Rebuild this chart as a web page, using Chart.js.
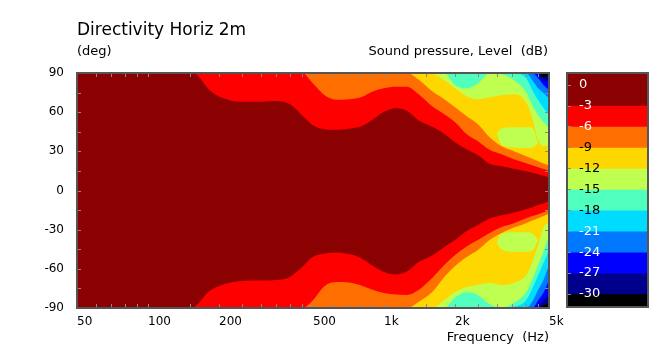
<!DOCTYPE html>
<html>
<head>
<meta charset="utf-8">
<script src="https://cdn.jsdelivr.net/npm/chart.js@4.4.1/dist/chart.umd.min.js"></script>
<style>
  html, body { margin: 0; padding: 0; background: #fff; }
  #wrap { position: relative; width: 666px; height: 351px; }
  #main { position: absolute; left: 0; top: 0; }
  #bar { position: absolute; left: 566px; top: 72px; }
</style>
</head>
<body>
<div id="wrap">
  <canvas id="main" width="666" height="351"></canvas>
  <canvas id="bar" width="83" height="236"></canvas>
</div>
<script>
const FONT = '"DejaVu Sans", Verdana, sans-serif';

// frequency grid (Hz) the contour edges are read at
const freqs = [50, 100, 140, 150, 160, 180, 200, 250, 300, 350, 400, 450, 500, 560, 630, 710, 800, 900, 1000, 1120, 1250, 1400, 1600, 1800, 2000, 2240, 2500, 2800, 3150, 3550, 4000, 4250, 4500, 4750, 5000];

// angle (deg) where the level is crossed, upper half / lower half
const top3 = [90, 90, 90, 90, 89, 78, 72, 68, 68, 68.5, 66, 57.5, 50, 47, 46.5, 47.3, 49.2, 54.6, 60.3, 63, 61, 53.8, 48.8, 43.5, 37, 31.6, 27, 20.5, 18.6, 16.7, 14.8, 13.6, 12.5, 11.3, 10.2];
const bot3 = [-90, -90, -90, -90, -88, -77.8, -73.2, -69.4, -69, -68.6, -66, -58.6, -50.8, -48.3, -47.5, -48.7, -51.8, -57.9, -62.5, -64.4, -62.1, -54.8, -49.8, -43.3, -38, -31.1, -26.5, -21.5, -18.9, -17, -14.3, -12.8, -11.2, -9.7, -8.2];
const top6 = [90, 90, 90, 90, 90, 90, 90, 90, 90, 90, 90, 90, 82, 73, 69.5, 69.9, 71.4, 76, 78.3, 79.4, 79.4, 73.7, 64.5, 58.4, 52.3, 43.1, 37.7, 31.2, 27.8, 24, 20.9, 19.4, 17.9, 16.5, 15.2];
const bot6 = [-90, -90, -90, -90, -90, -90, -90, -90, -90, -90, -90, -90, -84, -73.2, -70.1, -70.5, -72.8, -76.2, -78.5, -79.7, -80, -76.2, -67, -57.1, -49.4, -42.9, -38, -32.6, -28, -25, -21.2, -19.6, -18.1, -16.7, -15.4];
const top9 = [90, 90, 90, 90, 90, 90, 90, 90, 90, 90, 90, 90, 90, 90, 90, 90, 90, 90, 90, 90, 90, 85, 76, 69.9, 63.8, 56.9, 50.8, 40.8, 33.9, 30.1, 26.3, 24.4, 22.5, 20.7, 19];
const bot9 = [-90, -90, -90, -90, -90, -90, -90, -90, -90, -90, -90, -90, -90, -90, -90, -90, -90, -90, -90, -90, -90, -85.4, -77.8, -66.3, -57.9, -51, -45.6, -38, -32.6, -28.4, -25, -23, -21.2, -19.5, -17.7];
const top12 = [90, 90, 90, 90, 90, 90, 90, 90, 90, 90, 90, 90, 90, 90, 90, 90, 90, 90, 90, 90, 90, 90, 89.5, 84.4, 78.3, 72.2, 69.9, 71.4, 72.9, 73.7, 67.6, 55.3, 38.5, 33.9, 34.7];
const bot12 = [-90, -90, -90, -90, -90, -90, -90, -90, -90, -90, -90, -90, -90, -90, -90, -90, -90, -90, -90, -90, -90, -90, -90, -83.9, -77.8, -74, -72.4, -70.9, -72.4, -70.9, -64.8, -54.8, -41.8, -28, -24.5];
const top15 = [90, 90, 90, 90, 90, 90, 90, 90, 90, 90, 90, 90, 90, 90, 90, 90, 90, 90, 90, 90, 90, 90, 90, 90, 80.6, 78.3, 82, 90, 89, 84.4, 75.2, 65.3, 57.6, 52.3, 47.7];
const bot15 = [-90, -90, -90, -90, -90, -90, -90, -90, -90, -90, -90, -90, -90, -90, -90, -90, -90, -90, -90, -90, -90, -90, -90, -90, -82, -78, -80, -87, -90, -86, -78, -68, -57, -46, -34.1];
const top18 = [90, 90, 90, 90, 90, 90, 90, 90, 90, 90, 90, 90, 90, 90, 90, 90, 90, 90, 90, 90, 90, 90, 90, 90, 90, 90, 90, 90, 90, 90, 85.9, 76.8, 69.1, 63, 57.6];
const bot18 = [-90, -90, -90, -90, -90, -90, -90, -90, -90, -90, -90, -90, -90, -90, -90, -90, -90, -90, -90, -90, -90, -90, -90, -90, -90, -90, -90, -90, -90, -89, -84, -75, -65, -55, -45.6];
const top21 = [90, 90, 90, 90, 90, 90, 90, 90, 90, 90, 90, 90, 90, 90, 90, 90, 90, 90, 90, 90, 90, 90, 90, 90, 90, 90, 90, 90, 90, 90, 90, 84.4, 78.3, 74.5, 70.6];
const bot21 = [-90, -90, -90, -90, -90, -90, -90, -90, -90, -90, -90, -90, -90, -90, -90, -90, -90, -90, -90, -90, -90, -90, -90, -90, -90, -90, -90, -90, -90, -90, -90, -85, -76, -68, -57];
const top24 = [90, 90, 90, 90, 90, 90, 90, 90, 90, 90, 90, 90, 90, 90, 90, 90, 90, 90, 90, 90, 90, 90, 90, 90, 90, 90, 90, 90, 90, 90, 90, 90, 86, 80.6, 76.8];
const bot24 = [-90, -90, -90, -90, -90, -90, -90, -90, -90, -90, -90, -90, -90, -90, -90, -90, -90, -90, -90, -90, -90, -90, -90, -90, -90, -90, -90, -90, -90, -90, -90, -90, -84, -78, -68.6];
const top27 = [90, 90, 90, 90, 90, 90, 90, 90, 90, 90, 90, 90, 90, 90, 90, 90, 90, 90, 90, 90, 90, 90, 90, 90, 90, 90, 90, 90, 90, 90, 90, 90, 89, 83.6, 84.4];
const bot27 = [-90, -90, -90, -90, -90, -90, -90, -90, -90, -90, -90, -90, -90, -90, -90, -90, -90, -90, -90, -90, -90, -90, -90, -90, -90, -90, -90, -90, -90, -90, -90, -90, -88, -84, -80];
const top30 = [90, 90, 90, 90, 90, 90, 90, 90, 90, 90, 90, 90, 90, 90, 90, 90, 90, 90, 90, 90, 90, 90, 90, 90, 90, 90, 90, 90, 90, 90, 90, 90, 90, 86.7, 89];
const bot30 = [-90, -90, -90, -90, -90, -90, -90, -90, -90, -90, -90, -90, -90, -90, -90, -90, -90, -90, -90, -90, -90, -90, -90, -90, -90, -90, -90, -90, -90, -90, -90, -90, -90, -88, -86];

// -12 dB pockets sitting inside the -9 band
const islandFreqs = [3000, 3150, 3550, 4000, 4250, 4500];
const islandTopHi = [44, 47.5, 48.5, 48.5, 48, 36];
const islandTopLo = [44, 35, 33, 32.5, 33, 36];
const islandBotHi = [-40, -33, -32, -32, -33, -38];
const islandBotLo = [-40, -45, -47, -47, -46, -38];

// colour scale
const levels = [0, -3, -6, -9, -12, -15, -18, -21, -24, -27, -30];
const bandLows = [-3, -6, -9, -12, -15, -18, -21, -24, -27, -30, -32];
const barTop = 1.8;
const bandColors = ['#8b0000', '#ff0000', '#ff6e00', '#ffd700', '#bfff50', '#50ffbe', '#00dcff', '#0078ff', '#0000ff', '#00008c', '#000000'];
const levelTextColors = ['#fff', '#fff', '#fff', '#000', '#000', '#000', '#000', '#fff', '#fff', '#fff', '#fff'];

// axes
const tickFreqs = [50, 100, 200, 500, 1000, 2000, 5000];
const tickLabels = ['50', '100', '200', '500', '1k', '2k', '5k'];
const minorFreqs = [60, 70, 80, 90, 100, 150, 200, 250, 300, 350, 400, 450, 500, 600, 700, 800, 900, 1000, 1500, 2000, 2500, 3000, 3500, 4000, 4500];
const minorAngles = [-75, -60, -45, -30, -15, 0, 15, 30, 45, 60, 75];

const contourTop = [top3, top6, top9, top12, top15, top18, top21, top24, top27, top30];
const contourBot = [bot3, bot6, bot9, bot12, bot15, bot18, bot21, bot24, bot27, bot30];

function pts(xs, ys) {
  return xs.map((f, i) => ({ x: f, y: ys[i] }));
}

function area(xs, ys, color, fill) {
  return {
    data: pts(xs, ys),
    backgroundColor: color,
    borderColor: 'transparent',
    borderWidth: 0,
    pointRadius: 0,
    fill: fill,
    cubicInterpolationMode: 'monotone'
  };
}

const datasets = [];
for (let k = 0; k < contourTop.length; k++) {
  datasets.push(area(freqs, contourTop[k], bandColors[k + 1], 'end'));
  datasets.push(area(freqs, contourBot[k], bandColors[k + 1], 'start'));
  if (k === 3) {
    datasets.push(area(islandFreqs, islandTopHi, bandColors[4], '+1'));
    datasets.push(area(islandFreqs, islandTopLo, bandColors[4], false));
    datasets.push(area(islandFreqs, islandBotHi, bandColors[4], '+1'));
    datasets.push(area(islandFreqs, islandBotLo, bandColors[4], false));
  }
}
// later layers on top
datasets.forEach((d, i) => { d.order = -i; });

const mainDecor = {
  id: 'mainDecor',
  beforeDatasetsDraw(chart) {
    const a = chart.chartArea;
    const ctx = chart.ctx;
    ctx.save();
    ctx.fillStyle = bandColors[0];
    ctx.fillRect(a.left, a.top, a.right - a.left, a.bottom - a.top);
    ctx.restore();
  },
  afterDatasetsDraw(chart) {
    const a = chart.chartArea;
    const ctx = chart.ctx;
    const xs = chart.scales.x;
    const ys = chart.scales.y;
    ctx.save();
    ctx.strokeStyle = '#8a8a8a';
    ctx.lineWidth = 1;
    ctx.beginPath();
    minorFreqs.forEach(f => {
      const px = Math.round(xs.getPixelForValue(f)) + 0.5;
      ctx.moveTo(px, a.top); ctx.lineTo(px, a.top + 4);
      ctx.moveTo(px, a.bottom); ctx.lineTo(px, a.bottom - 4);
    });
    minorAngles.forEach(v => {
      const py = Math.round(ys.getPixelForValue(v)) + 0.5;
      ctx.moveTo(a.left, py); ctx.lineTo(a.left + 4, py);
      ctx.moveTo(a.right, py); ctx.lineTo(a.right - 4, py);
    });
    ctx.stroke();
    ctx.strokeStyle = '#555';
    ctx.lineWidth = 2;
    ctx.strokeRect(a.left, a.top, a.right - a.left, a.bottom - a.top);
    ctx.restore();
  },
  afterDraw(chart) {
    const ctx = chart.ctx;
    ctx.save();
    ctx.fillStyle = '#000';
    ctx.textBaseline = 'alphabetic';
    ctx.textAlign = 'left';
    ctx.font = '17px ' + FONT;
    ctx.fillText('Directivity Horiz 2m', 77, 34.5);
    ctx.font = '13px ' + FONT;
    ctx.fillText('(deg)', 77, 55);
    ctx.textAlign = 'right';
    ctx.fillText('Sound pressure, Level  (dB)', 548, 55);
    ctx.fillText('Frequency  (Hz)', 549, 341);
    ctx.restore();
  }
};

new Chart(document.getElementById('main'), {
  type: 'line',
  data: { datasets: datasets },
  options: {
    responsive: false,
    animation: false,
    events: [],
    layout: { padding: { left: 0, top: 73, right: 117, bottom: 0 } },
    plugins: { legend: { display: false }, tooltip: { enabled: false } },
    scales: {
      x: {
        type: 'logarithmic',
        min: 50,
        max: 5000,
        afterBuildTicks(axis) { axis.ticks = tickFreqs.map(v => ({ value: v })); },
        afterFit(axis) { axis.height = 43; axis.paddingLeft = 0; axis.paddingRight = 0; },
        ticks: {
          autoSkip: false,
          maxRotation: 0,
          align: 'start',
          padding: 7,
          color: '#000',
          font: { family: FONT, size: 12 },
          callback: (v, i) => tickLabels[i]
        },
        grid: { display: false, drawTicks: false },
        border: { display: false }
      },
      y: {
        min: -90,
        max: 90,
        afterFit(axis) { axis.width = 77; axis.paddingTop = 0; axis.paddingBottom = 0; },
        ticks: {
          stepSize: 30,
          padding: 13,
          color: '#000',
          font: { family: FONT, size: 12 }
        },
        grid: { display: false, drawTicks: false },
        border: { display: false }
      }
    }
  },
  plugins: [mainDecor]
});

// colour bar: level labels are written inside the bar at the scale's pixel for each level
const barDecor = {
  id: 'barDecor',
  afterDraw(chart) {
    const a = chart.chartArea;
    const ctx = chart.ctx;
    const ys = chart.scales.y;
    ctx.save();
    ctx.strokeStyle = '#8a8a8a';
    ctx.lineWidth = 1;
    ctx.beginPath();
    levels.forEach(v => {
      const py = Math.round(ys.getPixelForValue(v)) + 0.5;
      ctx.moveTo(a.left, py); ctx.lineTo(a.left + 5, py);
    });
    ctx.stroke();
    ctx.font = '13px ' + FONT;
    ctx.textAlign = 'left';
    ctx.textBaseline = 'middle';
    levels.forEach((v, i) => {
      ctx.fillStyle = levelTextColors[i];
      ctx.fillText(String(v), a.left + 13, ys.getPixelForValue(v));
    });
    ctx.strokeStyle = '#555';
    ctx.lineWidth = 2;
    ctx.strokeRect(a.left + 1, a.top + 1, a.right - a.left - 2, a.bottom - a.top - 2);
    ctx.restore();
  }
};

new Chart(document.getElementById('bar'), {
  type: 'bar',
  data: {
    labels: ['dB'],
    datasets: bandColors.map((c, i) => ({
      data: [[bandLows[i], barTop]],
      backgroundColor: c,
      borderWidth: 0,
      grouped: false,
      barPercentage: 1,
      categoryPercentage: 1
    }))
  },
  options: {
    responsive: false,
    animation: false,
    events: [],
    layout: { padding: 0 },
    plugins: { legend: { display: false }, tooltip: { enabled: false } },
    scales: {
      x: { display: false },
      y: { display: false, min: -32, max: barTop }
    }
  },
  plugins: [barDecor]
});
</script>
</body>
</html>
